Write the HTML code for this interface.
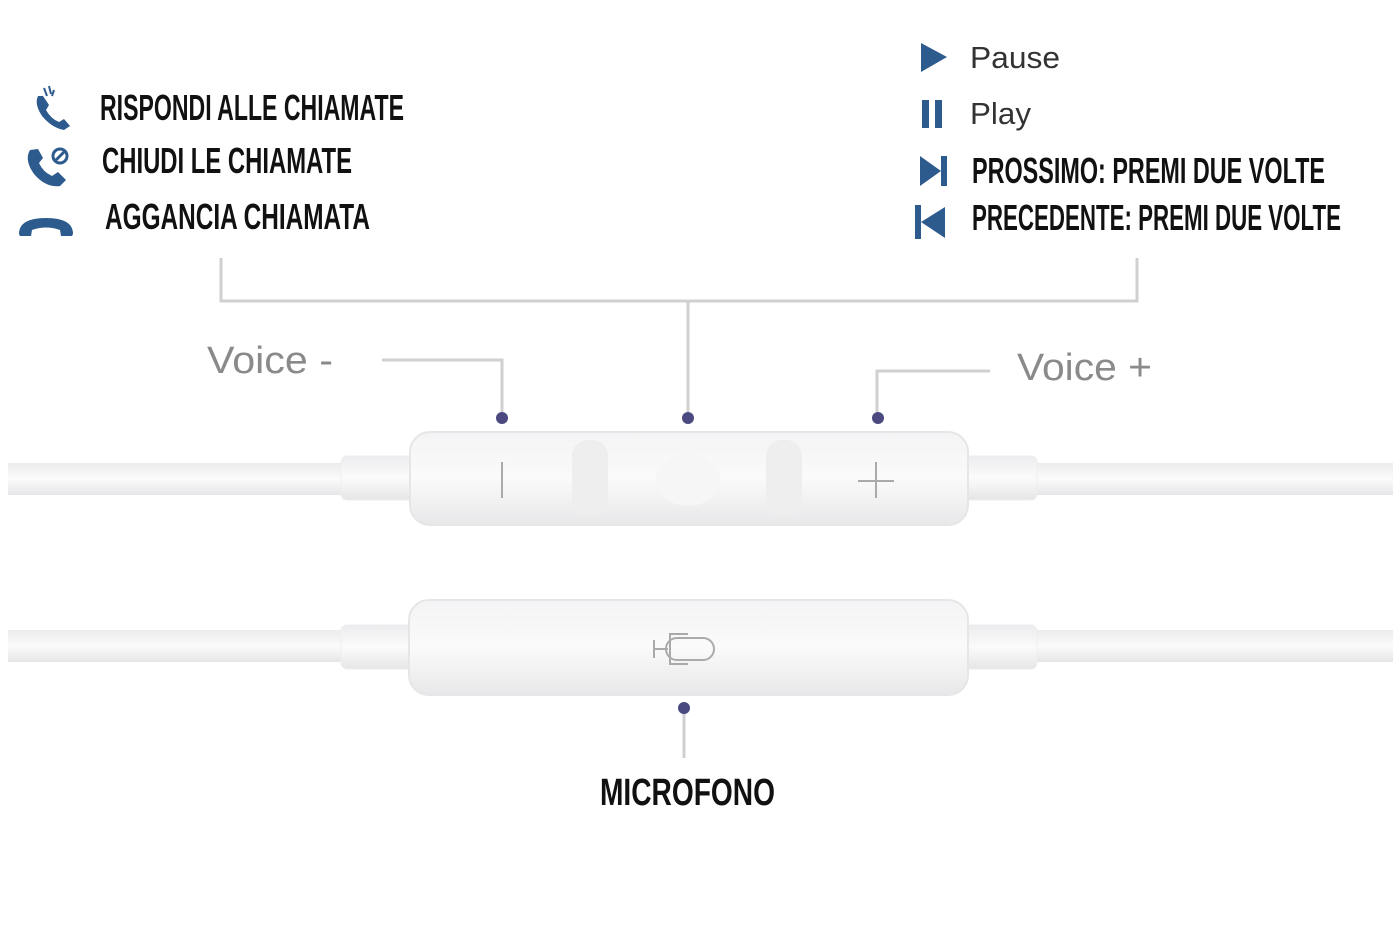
<!DOCTYPE html>
<html><head><meta charset="utf-8"><style>
html,body{margin:0;padding:0;background:#fff;width:1400px;height:932px;overflow:hidden}
svg{display:block}
.b{font-family:"Liberation Sans Narrow","Liberation Sans",sans-serif;font-weight:bold;fill:#111}
.r{font-family:"Liberation Sans",sans-serif;fill:#333}
.g{font-family:"Liberation Sans",sans-serif;fill:#8a8a8a}
</style></head><body>
<svg width="1400" height="932" viewBox="0 0 1400 932" xmlns="http://www.w3.org/2000/svg">
<defs>
<linearGradient id="bd" x1="0" y1="0" x2="0" y2="1">
<stop offset="0" stop-color="#f4f4f6"/><stop offset="0.5" stop-color="#fafafa"/><stop offset="1" stop-color="#e8e8ea"/></linearGradient>
<linearGradient id="cb" x1="0" y1="0" x2="0" y2="1">
<stop offset="0" stop-color="#ececee"/><stop offset="0.5" stop-color="#fbfbfb"/><stop offset="1" stop-color="#e6e6e8"/></linearGradient>
</defs>
<text class="b" x="100" y="120" font-size="36" textLength="304" lengthAdjust="spacingAndGlyphs">RISPONDI ALLE CHIAMATE</text>
<text class="b" x="102" y="173" font-size="36" textLength="250" lengthAdjust="spacingAndGlyphs">CHIUDI LE CHIAMATE</text>
<text class="b" x="105" y="229" font-size="36" textLength="265" lengthAdjust="spacingAndGlyphs">AGGANCIA CHIAMATA</text>
<g fill="#2d5b8e">
<path d="M38 96 q-4 8 4 20 q10 12 22 14 l6 -4 l-6 -7 l-5 3 q-8 -3 -13 -12 l3 -5 l-6 -9 z"/>
<path d="M44 88 l3 8 M49 86 l2 8 M54 90 l-2 6" stroke="#2d5b8e" stroke-width="2"/>
<path d="M30 150 q-6 10 4 24 q12 14 26 12 l6 -6 l-8 -8 l-6 4 q-9 -4 -13 -13 l4 -5 l-5 -9 z"/>
<circle cx="60" cy="156" r="7" fill="none" stroke="#2d5b8e" stroke-width="3"/>
<path d="M56 160 l8 -8" stroke="#2d5b8e" stroke-width="3"/>
<path d="M19 234 q0 -16 27 -16 q27 0 27 16 l-1 2 l-11 0 l-1 -6 q-14 -5 -28 0 l-1 6 l-11 0 z"/>
</g>
<polygon points="921,43 921,72 947,57" fill="#2d5b8e"/>
<rect x="922" y="100" width="7" height="28" fill="#2d5b8e"/><rect x="935" y="100" width="7" height="28" fill="#2d5b8e"/>
<polygon points="920,156 920,186 941,171" fill="#2d5b8e"/><rect x="941" y="156" width="6" height="30" fill="#2d5b8e"/>
<rect x="915" y="205" width="6" height="34" fill="#2d5b8e"/><polygon points="945,207 945,238 921,222" fill="#2d5b8e"/>
<text class="r" x="970" y="68" font-size="31" textLength="90" lengthAdjust="spacingAndGlyphs">Pause</text>
<text class="r" x="970" y="124" font-size="31" textLength="61" lengthAdjust="spacingAndGlyphs">Play</text>
<text class="b" x="972" y="183" font-size="36" textLength="353" lengthAdjust="spacingAndGlyphs">PROSSIMO: PREMI DUE VOLTE</text>
<text class="b" x="972" y="230" font-size="36" textLength="369" lengthAdjust="spacingAndGlyphs">PRECEDENTE: PREMI DUE VOLTE</text>
<g stroke="#d0d0d0" stroke-width="3" fill="none">
<path d="M221 258 V301 H1137 V258"/>
<path d="M688 301 V412"/>
<path d="M382 360 H502 V412"/>
<path d="M990 371 H877 V412"/>
<path d="M684 712 V758"/>
</g>
<g fill="#4a4a80">
<circle cx="502" cy="418" r="6"/><circle cx="688" cy="418" r="6"/><circle cx="878" cy="418" r="6"/><circle cx="684" cy="708" r="6"/>
</g>
<text class="g" x="207" y="373" font-size="38" textLength="126" lengthAdjust="spacingAndGlyphs">Voice -</text>
<text class="g" x="1017" y="380" font-size="38" textLength="135" lengthAdjust="spacingAndGlyphs">Voice +</text>
<rect x="8" y="463" width="340" height="32" fill="url(#cb)"/>
<rect x="1030" y="463" width="363" height="32" fill="url(#cb)"/>
<rect x="341" y="456" width="75" height="44" rx="6" fill="url(#cb)" stroke="#eee"/>
<rect x="962" y="456" width="75" height="44" rx="6" fill="url(#cb)" stroke="#eee"/>
<rect x="410" y="432" width="558" height="93" rx="20" fill="url(#bd)" stroke="#e6e6e6" stroke-width="2"/>
<rect x="572" y="440" width="36" height="76" rx="16" fill="#eeeeef"/>
<rect x="766" y="440" width="36" height="76" rx="16" fill="#eeeeef"/>
<ellipse cx="688" cy="480" rx="32" ry="26" fill="#f6f6f6"/>
<path d="M502 462 V498" stroke="#aaa" stroke-width="2"/>
<path d="M876 462 V498 M858 481 H894" stroke="#aaa" stroke-width="2"/>
<rect x="8" y="630" width="340" height="32" fill="url(#cb)"/>
<rect x="1030" y="630" width="363" height="32" fill="url(#cb)"/>
<rect x="341" y="625" width="75" height="44" rx="6" fill="url(#cb)" stroke="#eee"/>
<rect x="962" y="625" width="75" height="44" rx="6" fill="url(#cb)" stroke="#eee"/>
<rect x="409" y="600" width="559" height="95" rx="20" fill="url(#bd)" stroke="#e6e6e6" stroke-width="2"/>
<g stroke="#aaa" stroke-width="2" fill="none">
<rect x="666" y="638" width="48" height="22" rx="11"/>
<path d="M654 649 H668 M654 640 V658 M688 634 H670 V664 H688"/>
</g>
<text class="b" x="600" y="805" font-size="38" textLength="175" lengthAdjust="spacingAndGlyphs">MICROFONO</text>
</svg>
</body></html>
